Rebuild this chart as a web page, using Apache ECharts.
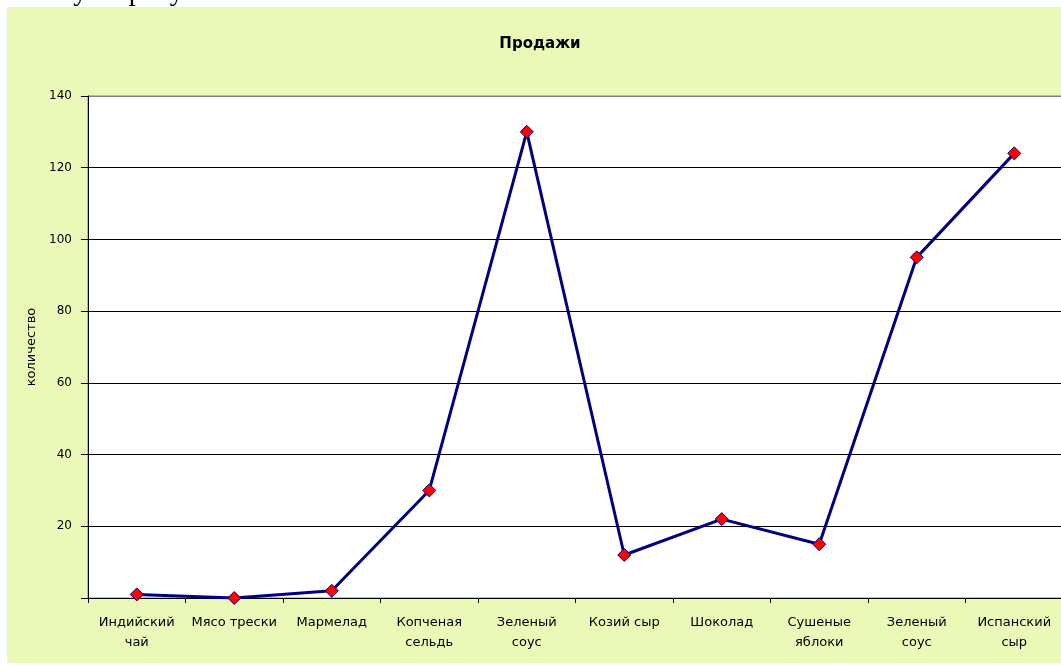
<!DOCTYPE html>
<html>
<head>
<meta charset="utf-8">
<script src="https://cdn.jsdelivr.net/npm/echarts@6/dist/echarts.min.js"></script>
<style>
html,body{margin:0;padding:0;background:#fff;}
#chart{width:1061px;height:665px;}
</style>
</head>
<body>
<div id="chart"></div>
<script>
const categories = ['Индийский чай','Мясо трески','Мармелад','Копченая сельдь','Зеленый соус','Козий сыр','Шоколад','Сушеные яблоки','Зеленый соус','Испанский сыр'];
const tickLabels = ['Индийский\nчай','Мясо трески','Мармелад','Копченая\nсельдь','Зеленый\nсоус','Козий сыр','Шоколад','Сушеные\nяблоки','Зеленый\nсоус','Испанский\nсыр'];
const sales = [1, 0, 2, 30, 130, 12, 22, 15, 95, 124];
const yTickLabels = ['', '20', '40', '60', '80', '100', '120', '140'];

const chart = echarts.init(document.getElementById('chart'));
const FONT = '"DejaVu Sans", Verdana, sans-serif';
chart.setOption({
  animation: false,
  graphic: [
    { type: 'rect', z: -10, silent: true, shape: { x: 7, y: 7, width: 1054, height: 656 }, style: { fill: '#EAF9B8' } },
    { type: 'text', z: -10, silent: true, style: { x: 252, y: 7, text: 'схему на рисунке 4.', textAlign: 'right', textVerticalAlign: 'bottom', font: '28px "Liberation Serif", serif', fill: '#000' } }
  ],
  title: {
    text: 'Продажи', left: 535, top: 32, textAlign: 'center',
    textStyle: { fontFamily: FONT, fontSize: 15, fontWeight: 'bold', color: '#000' }
  },
  grid: {
    left: 88, top: 96, width: 975, height: 502,
    show: true, backgroundColor: '#fff', borderColor: '#808080', borderWidth: 1,
    outerBoundsMode: 'none', containLabel: false
  },
  xAxis: {
    type: 'category', data: categories, boundaryGap: true,
    axisLine: { lineStyle: { color: '#000', width: 1 } },
    axisTick: { show: true, length: 5, lineStyle: { color: '#000' } },
    axisLabel: {
      interval: 0, margin: 15, fontFamily: FONT, fontSize: 13, lineHeight: 20, color: '#000',
      formatter: (v, i) => tickLabels[i]
    }
  },
  yAxis: {
    type: 'value', min: 0, max: 140, interval: 20,
    name: 'количество', nameLocation: 'middle', nameRotate: 90, nameGap: 49,
    nameTextStyle: { fontFamily: FONT, fontSize: 13, color: '#000' },
    axisLine: { show: true, lineStyle: { color: '#000', width: 1 } },
    axisTick: { show: true, length: 7, lineStyle: { color: '#000' } },
    axisLabel: {
      margin: 16, fontFamily: FONT, fontSize: 12, color: '#000',
      formatter: (v) => yTickLabels[Math.round(v / 20)]
    },
    splitLine: { show: true, lineStyle: { color: ['#000','#000','#000','#000','#000','#000','#000','#808080'], width: 1 } }
  },
  series: [{
    type: 'line', data: sales,
    lineStyle: { color: '#000080', width: 3 },
    symbol: 'diamond', symbolSize: 13,
    itemStyle: { color: '#FF0000', borderColor: '#000080', borderWidth: 1 }
  }]
});
</script>
</body>
</html>
